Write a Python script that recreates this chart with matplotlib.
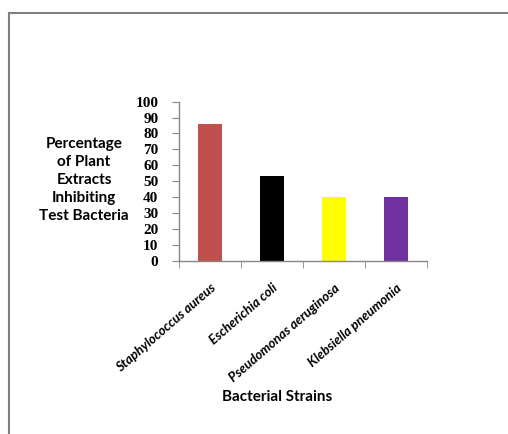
import matplotlib
matplotlib.use("Agg")
import matplotlib.pyplot as plt
from matplotlib.lines import Line2D
import numpy as np

categories = ["Staphylococcus aureus", "Escherichia coli", "Pseudomonas aeruginosa", "Klebsiella pneumonia"]
values = [86, 53, 40, 40]
colors = ["#C0504D", "#000000", "#FFFF00", "#7030A0"]
yticks = [0, 10, 20, 30, 40, 50, 60, 70, 80, 90, 100]

W, H = 508, 434
fig = plt.figure(figsize=(W/100, H/100), dpi=100)
fig.patch.set_facecolor("white")

# outer frame (top and left gray lines)
fx = 8.5 / W
fy = 1 - 12.7 / H
fig.add_artist(Line2D([fx, 1.0], [fy, fy], transform=fig.transFigure, color="#808080", lw=1.5))
fig.add_artist(Line2D([fx, fx], [0, fy], transform=fig.transFigure, color="#808080", lw=1.5))

left, right = 179.3 / W, 427.3 / W
bottom, top = 1 - 260.7 / H, 1 - 101.7 / H
ax = fig.add_axes([left, bottom, right - left, top - bottom])

x = np.arange(len(categories))
ax.bar(x, values, width=0.39, color=colors, zorder=2)

ax.set_xlim(-0.5, len(categories) - 0.5)
ax.set_ylim(0, 100)
ax.set_yticks(yticks)
ax.set_yticklabels([str(v) for v in yticks], fontfamily="Liberation Serif", fontweight="bold", fontsize=11)

ax.set_xticks(x)
ax.set_xticklabels(categories, rotation=41, ha="right", rotation_mode="anchor",
                   fontfamily="Lato", fontweight="bold", fontstyle="italic", fontsize=9.5)
ax.tick_params(axis="x", length=0, pad=15)
ax.set_xticks(np.arange(len(categories) + 1) - 0.5, minor=True)
ax.tick_params(axis="x", which="minor", length=5, color="#868686", direction="out")
ax.tick_params(axis="y", length=5, color="#868686", direction="out", pad=10)

for s in ["top", "right"]:
    ax.spines[s].set_visible(False)
for s in ["left", "bottom"]:
    ax.spines[s].set_color("#868686")
    ax.spines[s].set_linewidth(1.0)

fig.text(84 / W, 1 - 180 / H, "Percentage\nof Plant\nExtracts\nInhibiting\nTest Bacteria",
         ha="center", va="center", multialignment="center", fontfamily="Lato",
         fontweight="bold", fontsize=11, linespacing=1.35)
fig.text(277 / W, 1 - 396.7 / H, "Bacterial Strains", ha="center", va="center",
         fontfamily="Lato", fontweight="bold", fontsize=11)

fig.savefig("out.png", dpi=100, facecolor="white")
